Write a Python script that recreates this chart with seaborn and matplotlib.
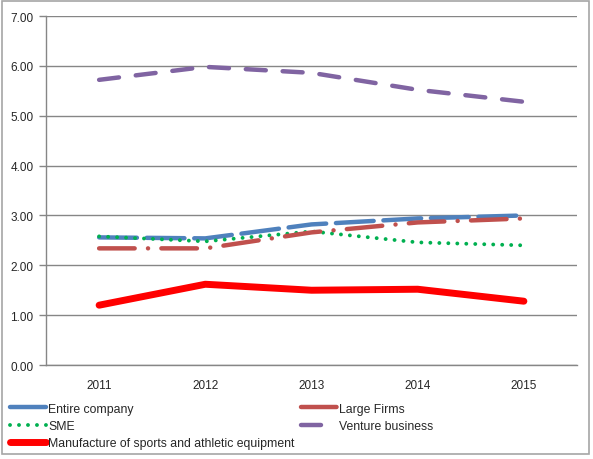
import matplotlib
matplotlib.use("Agg")
import matplotlib.pyplot as plt
import seaborn as sns
import pandas as pd
from matplotlib.patches import Rectangle

years = ["2011", "2012", "2013", "2014", "2015"]
entire_company = [2.56, 2.54, 2.82, 2.94, 3.00]
large_firms = [2.34, 2.34, 2.66, 2.86, 2.94]
sme = [2.58, 2.48, 2.68, 2.46, 2.40]
venture = [5.72, 5.98, 5.86, 5.52, 5.28]
manufacture = [1.20, 1.62, 1.50, 1.52, 1.28]

series = {
    "Entire company": entire_company,
    "SME": sme,
    "Manufacture of sports and athletic equipment": manufacture,
    "Large Firms": large_firms,
    "Venture business": venture,
}
styles = {
    "Entire company": dict(color="#4F81BD", lw=3.2, ls=(0, (8.5, 2.2))),
    "SME": dict(color="#00B050", lw=2.8, ls=(0, (0.01, 2.3))),
    "Manufacture of sports and athletic equipment": dict(color="#FF0000", lw=5.0, ls="-"),
    "Large Firms": dict(color="#C0504D", lw=3.2, ls=(0, (8, 3, 0.01, 3))),
    "Venture business": dict(color="#8064A2", lw=3.2, ls=(0, (4.5, 3.8))),
}

rows = []
for name, vals in series.items():
    for i, v in enumerate(vals):
        rows.append({"series": name, "pos": i, "value": v})
df = pd.DataFrame(rows)

sns.set_style("white")
plt.rcParams["font.family"] = ["Liberation Sans", "DejaVu Sans"]
plt.rcParams["text.color"] = "#262626"

fig = plt.figure(figsize=(5.93, 4.60), dpi=100)
ax = fig.add_axes([0.0776, 0.2043, 0.8954, 0.7587])

for name in series:
    st = styles[name]
    sns.lineplot(data=df[df.series == name], x="pos", y="value", ax=ax,
                 color=st["color"], linewidth=st["lw"], label=name)
    line = ax.lines[-1]
    line.set_linestyle(st["ls"])
    line.set_dash_capstyle("round")
    line.set_solid_capstyle("round")
    line.set_solid_joinstyle("round")

ax.set_xlim(-0.5, 4.5)
ax.set_ylim(0, 7)
ax.set_yticks([0, 1, 2, 3, 4, 5, 6, 7])
ax.set_yticklabels([f"{v:.2f}" for v in range(8)], fontsize=8.5)
ax.set_xticks(range(5))
ax.set_xticklabels(years, fontsize=8.5)
ax.set_xticks([-0.5, 0.5, 1.5, 2.5, 3.5, 4.5], minor=True)
ax.tick_params(axis="x", which="major", length=0, pad=10, labelcolor="#262626")
ax.tick_params(axis="x", which="minor", length=5, color="#868686", width=1)
ax.tick_params(axis="y", length=5, color="#868686", width=1, pad=4, left=True,
               labelcolor="#262626")
ax.set_xlabel("")
ax.set_ylabel("")
ax.grid(axis="y", color="#868686", linewidth=1)
ax.set_axisbelow(True)
for side in ["top", "right"]:
    ax.spines[side].set_visible(False)
for side in ["left", "bottom"]:
    ax.spines[side].set_color("#868686")
    ax.spines[side].set_linewidth(1)

handles, labels = ax.get_legend_handles_labels()
ax.get_legend().remove()
leg = fig.legend(handles, labels, ncol=2, loc="upper left",
                 bbox_to_anchor=(0.008, 0.133), frameon=False, fontsize=8.8,
                 handlelength=3.0, handletextpad=0.15, columnspacing=0.5,
                 labelspacing=0.42, borderaxespad=0)

fig.patches.append(Rectangle((0.004, 0.01), 0.99, 0.985, transform=fig.transFigure,
                             fill=False, edgecolor="#A6A6A6", linewidth=1.2))

fig.savefig("out.png", dpi=100)
